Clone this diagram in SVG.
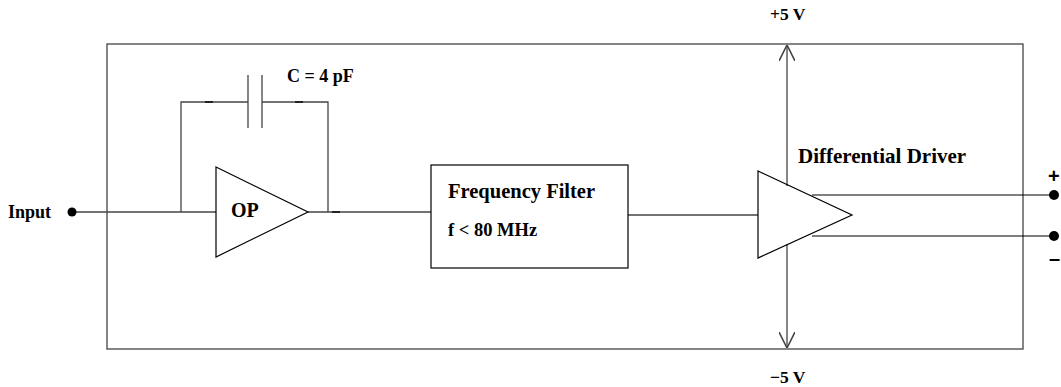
<svg xmlns="http://www.w3.org/2000/svg" width="1061" height="387" viewBox="0 0 1061 387">
<style>
.t{font-family:"Liberation Serif","Times New Roman",serif;font-weight:bold;font-size:18px;fill:#000}
.s{font-family:"Liberation Sans",Arial,sans-serif;font-weight:bold;font-size:20px;fill:#000}
.w{fill:none;stroke:#444;stroke-width:1.3}
.b{fill:none;stroke:#000;stroke-width:1.2}
.m{stroke:#222;stroke-width:2}
</style>
<defs>
<marker id="arr" viewBox="0 0 10 10" refX="10" refY="5" markerWidth="16" markerHeight="16" markerUnits="userSpaceOnUse" orient="auto">
<path d="M0,0 L10,5 L0,10" fill="none" stroke="#444" stroke-width="1"/>
</marker>
</defs>
<g id="frame"><rect x="107" y="44" width="916" height="305" class="w"/></g>
<g id="connectors">
<line x1="72" y1="212" x2="216" y2="212" class="w"/>
<polyline points="181,212 181,102 248,102" class="w"/>
<polyline points="262,102 328,102 328,212" class="w"/>
<line x1="308" y1="212" x2="431" y2="212" class="w"/>
<line x1="205" y1="102" x2="213" y2="102" class="m"/>
<line x1="295" y1="102" x2="303" y2="102" class="m"/>
<line x1="332" y1="212" x2="340" y2="212" class="m"/>
<line x1="628" y1="215" x2="758" y2="215" class="w"/>
<line x1="787" y1="186" x2="787" y2="45" class="w" marker-end="url(#arr)"/>
<line x1="787" y1="244" x2="787" y2="348" class="w" marker-end="url(#arr)"/>
<line x1="812" y1="195" x2="1054" y2="195" class="b"/>
<line x1="812" y1="236" x2="1054" y2="236" class="b"/>
</g>
<g id="input"><circle cx="72" cy="212" r="4.5" fill="#000"/><text x="8" y="218" class="t">Input</text></g>
<g id="capacitor">
<line x1="248" y1="75" x2="248" y2="128" class="w"/>
<line x1="262" y1="75" x2="262" y2="128" class="w"/>
<text x="287" y="82" class="t">C = 4 pF</text>
</g>
<g id="op">
<polygon points="216,167 308,212 216,257" fill="#fff" stroke="#000" stroke-width="1.2"/>
<text x="231" y="217" class="t" style="font-size:20px">OP</text>
</g>
<g id="filter">
<rect x="431" y="165" width="197" height="103" fill="#fff" stroke="#000" stroke-width="1.2"/>
<text x="448" y="198" class="t" style="font-size:20.5px">Frequency Filter</text>
<text x="448" y="236" class="t" style="font-size:18.5px">f &lt; 80 MHz</text>
</g>
<g id="driver">
<polygon points="758,171 852,215 758,258" fill="none" stroke="#000" stroke-width="1.2"/>
<text x="798" y="163" class="t" style="font-size:21px">Differential Driver</text>
</g>
<g id="supply">
<text x="770" y="20" class="t" style="font-size:17.5px">+5 V</text>
<text x="770" y="383" class="t" style="font-size:17.5px">−5 V</text>
</g>
<g id="outputs">
<circle cx="1054" cy="195" r="5" fill="#000"/>
<circle cx="1054" cy="236" r="5" fill="#000"/>
<text x="1048" y="183" class="s">+</text>
<text x="1049" y="265" class="s">–</text>
</g>
</svg>
